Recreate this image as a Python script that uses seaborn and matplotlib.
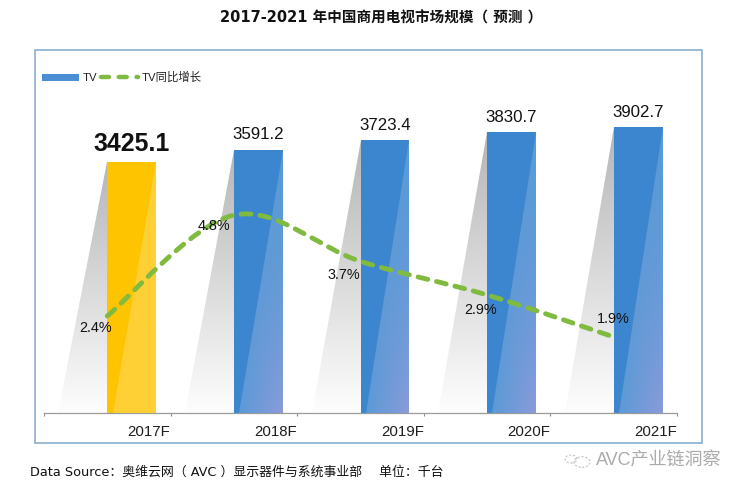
import numpy as np
import pandas as pd
import matplotlib
matplotlib.use("Agg")
import matplotlib.pyplot as plt
import seaborn as sns
from matplotlib.patches import Polygon, PathPatch, Patch, Rectangle, Circle
from matplotlib.path import Path
from matplotlib.lines import Line2D
from matplotlib.colors import to_rgb

categories = ["2017F", "2018F", "2019F", "2020F", "2021F"]
tv_values = [3425.1, 3591.2, 3723.4, 3830.7, 3902.7]
growth_pct = [2.4, 4.8, 3.7, 2.9, 1.9]
bar_colors = ["#FFC400", "#3B86CE", "#3B86CE", "#3B86CE", "#3B86CE"]
title_text = "2017-2021 年中国商用电视市场规模（ 预测 ）"
source_text = "Data Source：奥维云网（ AVC ）显示器件与系统事业部 　单位：千台"
mark_text = "AVC产业链洞察"

sns.set_theme(style="white")
LATIN = ["Liberation Sans", "Noto Sans CJK SC", "DejaVu Sans"]
VERD = ["DejaVu Sans", "Noto Sans CJK SC"]
plt.rcParams["font.family"] = LATIN

W, H = 742, 493
fig = plt.figure(figsize=(W / 100, H / 100), dpi=100, facecolor="white")
PT = 100 / 72  # pixels per point


def fx(x):
    return x / W


def fy(y):
    return 1 - y / H


# outer frame
fig.add_artist(Rectangle((fx(35), fy(443)), 667 / W, 393 / H, transform=fig.transFigure,
                         fc="white", ec="#7FA7CC", lw=1.1, zorder=0))

ax = fig.add_axes([fx(44), fy(413), 633 / W, 363 / H])
ax.patch.set_alpha(0)
pos = np.arange(len(categories))
BAR_W = 0.387
bar_x = pos + BAR_W / 2

df = pd.DataFrame({"x": bar_x, "tv": tv_values, "cat": categories})
sns.barplot(data=df, x="x", y="tv", hue="cat", palette=dict(zip(categories, bar_colors)),
            native_scale=True, dodge=False, width=BAR_W, legend=False, ax=ax,
            linewidth=0, saturation=1, zorder=2)


def gradient_fill(a, verts, extent, img, zorder):
    poly = Polygon(verts, closed=True, transform=a.transData, fc="none", ec="none")
    a.add_patch(poly)
    im = a.imshow(img, extent=extent, aspect="auto", origin="upper", zorder=zorder,
                  interpolation="bilinear")
    im.set_clip_path(poly)


for left, top, col in zip(pos, tv_values, bar_colors):
    right = left + BAR_W
    # grey cast shadow to the left of the bar
    v = np.linspace(0, 1, 64)[:, None, None]
    shade = np.concatenate([np.full((64, 1, 3), 0.62), (1 - v) * 0.74 + 0.02], axis=2)
    gradient_fill(ax, [(left, top), (left, 0), (left - BAR_W, 0)],
                  (left - BAR_W, left, 0, top), shade, 1)
    # lighter diagonal wedge on the right of the bar
    wedge = [(right, top), (right, 0), (left + 0.11 * BAR_W, 0)]
    u = np.linspace(0, 1, 32)[None, :, None]
    v = np.linspace(0, 1, 64)[:, None, None]
    if col == bar_colors[0]:
        c0, c1 = np.array(to_rgb("#FFD035")), np.array(to_rgb("#FFD035"))
    else:
        c0, c1 = np.array(to_rgb("#5A9AD6")), np.array(to_rgb("#8B9BDA"))
    img = c0[None, None, :] + (c1 - c0)[None, None, :] * (u * v ** 2)
    gradient_fill(ax, wedge, (left + 0.11 * BAR_W, right, 0, top), img, 3)

ax.set_xlim(-0.5, len(categories) - 0.5)
ax.set_ylim(0, 363 / ((413 - 162) / tv_values[0]))
ax.set_xlabel("")
ax.set_ylabel("")
ax.set_yticks([])
ax.set_xticks(np.arange(-0.5, len(categories)), [""] * (len(categories) + 1))
ax.set_xticks(pos + 0.33, categories, minor=True)
ax.tick_params(axis="x", which="major", length=2.5, width=0.8, color="#8C8C8C", bottom=True)
ax.tick_params(axis="x", which="minor", length=0, pad=8.5, labelsize=10.8, labelcolor="#1E1E1E")
for s in ["top", "left", "right"]:
    ax.spines[s].set_visible(False)
ax.spines["bottom"].set_color("#9A9A9A")
ax.spines["bottom"].set_linewidth(0.9)

for i, (x, val) in enumerate(zip(bar_x, tv_values)):
    bold = i == 0
    ax.annotate(f"{val:.1f}", (x, val), xytext=(0, (18 if bold else 15) / PT),
                textcoords="offset points", ha="center", va="center",
                fontsize=17.9 if bold else 12.2, fontweight="bold" if bold else "normal",
                color="#111111", zorder=8)

# growth line on a secondary scale
ax2 = ax.twinx()
ax2.patch.set_alpha(0)
ax2.grid(False)
ax2.set_yticks([])
for s in ax2.spines.values():
    s.set_visible(False)
ax2.set_ylim(0.09, 8.73)
pts = np.column_stack([pos, growth_pct])
ext = np.vstack([pts[0], pts, pts[-1]])
verts, codes = [pts[0]], [Path.MOVETO]
for k in range(1, len(ext) - 2):
    verts += [ext[k] + (ext[k + 1] - ext[k - 1]) / 6,
              ext[k + 1] - (ext[k + 2] - ext[k]) / 6,
              ext[k + 1]]
    codes += [Path.CURVE4] * 3
LINE_KW = dict(color="#80BA3F", lw=3.5)
ax2.add_patch(PathPatch(Path(verts, codes), fc="none", ec=LINE_KW["color"], lw=LINE_KW["lw"],
                        ls=(0, (2.05, 1.85)), capstyle="round", zorder=5))

offsets = [(-12, -12), (-20, -11), (-17, -14), (-7, -15), (0, 18)]
for x, g, (dx, dy) in zip(pos, growth_pct, offsets):
    ax2.annotate(f"{g:.1f}%", (x, g), xytext=(dx / PT, dy / PT), textcoords="offset points",
                 ha="center", va="center", fontsize=10.4, color="#111111", zorder=8)

handles = [Patch(fc="#4A8FD3", ec="none"),
           Line2D([0], [0], color=LINE_KW["color"], lw=3.2, ls=(0, (1.8, 2.2)),
                  dash_capstyle="round")]
ax2.legend(handles, ["TV", "TV同比增长"], ncol=2, loc="center left", frameon=False,
           bbox_to_anchor=(fx(32), fy(77.5)), bbox_transform=fig.transFigure,
           prop={"family": LATIN, "size": 8.2}, handlelength=3.2, handleheight=0.6,
           handletextpad=0.35, columnspacing=0.35, labelcolor="#222222")

fig.text(fx(381.5), fy(18.5), title_text, ha="center", va="center", fontsize=10.5,
         fontweight="bold", family=VERD, color="#111111")
fig.text(fx(30), fy(472), source_text, ha="left", va="center", fontsize=9.3,
         family=VERD, color="#111111")
fig.text(fx(596), fy(461), mark_text, ha="left", va="center", fontsize=13,
         family=["Liberation Sans", "Noto Sans CJK SC"], color="#ABABAB")
# small watermark glyph
fig.add_artist(Circle((fx(582), fy(462)), 8 / W, transform=fig.transFigure, fc="none",
                      ec="#C4C4C4", lw=0.8, ls=(0, (2, 1.5))))
fig.add_artist(Circle((fx(571), fy(459)), 6 / W, transform=fig.transFigure, fc="none",
                      ec="#C4C4C4", lw=0.8, ls=(0, (2, 1.5))))

fig.savefig("out.png", dpi=100)
